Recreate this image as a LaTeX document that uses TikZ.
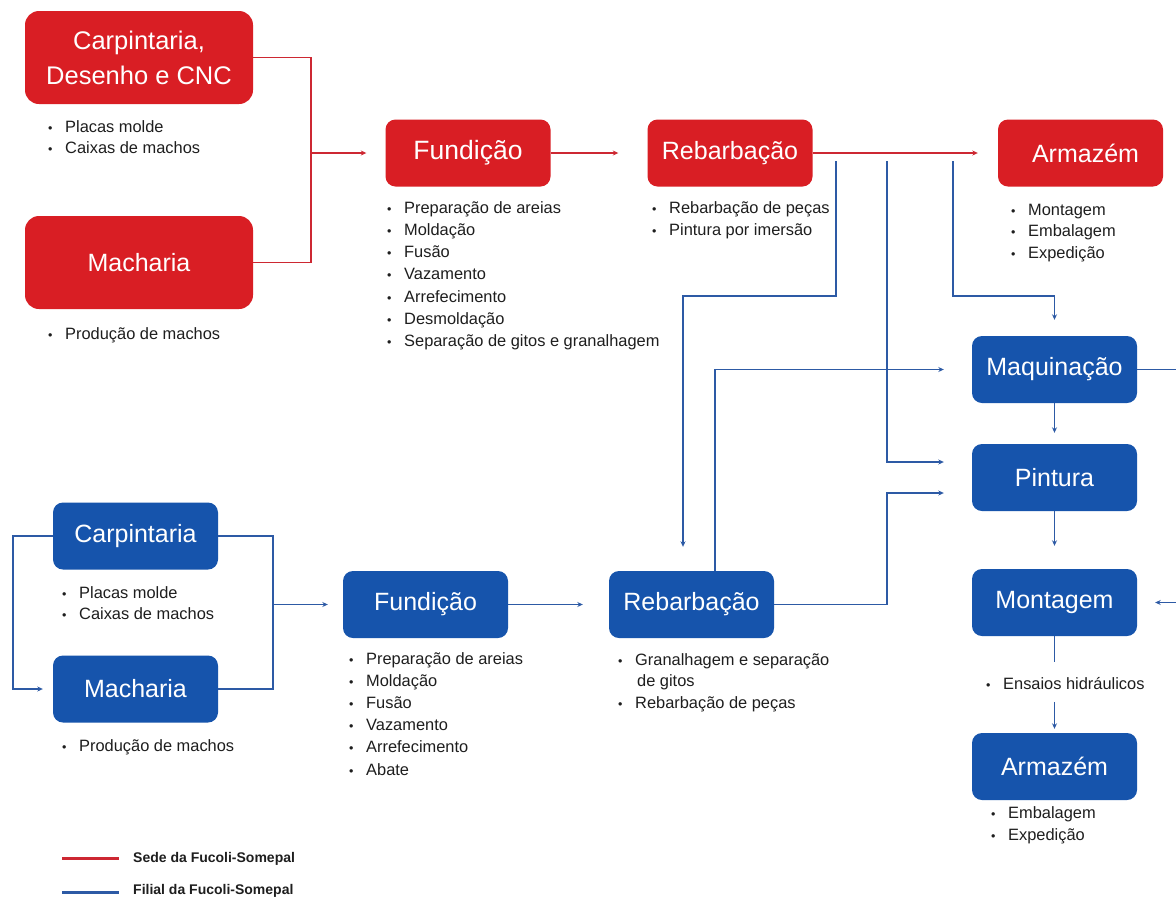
\documentclass[tikz,border=0pt]{standalone}
\usepackage{fontspec}
\setmainfont{Liberation Sans}
\usetikzlibrary{arrows.meta}
\definecolor{redbox}{RGB}{217,30,36}
\definecolor{bluebox}{RGB}{22,84,172}
\definecolor{redln}{RGB}{205,40,50}
\definecolor{blueln}{RGB}{45,90,165}
\definecolor{txt}{RGB}{30,30,30}
\newcommand{\bu}{\makebox[17pt][l]{{\fontsize{12.5}{12}\selectfont •}}}
\begin{document}
\begin{tikzpicture}[x=1pt,y=-1pt,
  box/.style={rounded corners=10pt, text=white, font=\fontsize{25}{30}\selectfont,
    minimum width=165pt, minimum height=67pt, inner sep=0pt, align=center},
  rbox/.style={box, fill=redbox},
  bbox/.style={box, fill=bluebox},
  bigbox/.style={minimum width=228pt, minimum height=93pt, rounded corners=14pt},
  rl/.style={draw=redln, line width=1.1pt},
  bln/.style={draw=blueln, line width=1.1pt},
  arr/.style={-{Stealth[length=5.5pt,width=5pt]}},
  item/.style={anchor=base west, inner sep=0pt, font=\fontsize{16.4}{16}\selectfont, text=txt},
  legend/.style={anchor=base west, inner sep=0pt, font=\fontsize{14}{14}\selectfont\bfseries, text=txt}]
\useasboundingbox (0,0) rectangle (1176,898);
\fill[white] (0,0) rectangle (1176,898);

% ---------- red (Sede) ----------
\node[rbox,bigbox,font=\fontsize{25.5}{35}\selectfont] (carpR) at (139,57.5) {Carpintaria,\\Desenho e CNC};
\node[rbox,bigbox] (machR) at (139,262.5) {Macharia};
\node[rbox,font=\fontsize{26.5}{30}\selectfont] (fundR) at (468,153) {Fundição};
\node[rbox] (rebR) at (730,153) {Rebarbação};
\node[rbox] (armR) at (1080.5,153) {\hspace*{10pt}Armazém};

% ---------- blue (Filial) ----------
\node[bbox] (maq) at (1054.5,369.5) {Maquinação};
\node[bbox] (pint) at (1054.5,477.5) {Pintura};
\node[bbox] (mont) at (1054.5,602.5) {Montagem};
\node[bbox] (arm2) at (1054.5,766.5) {Armazém};
\node[bbox] (carpB) at (135.5,536) {Carpintaria};
\node[bbox] (machB) at (135.5,689) {Macharia};
\node[bbox] (fundB) at (425.5,604.5) {Fundição};
\node[bbox] (rebB) at (691.5,604.5) {Rebarbação};

% ---------- bullet lists ----------
\foreach \t [count=\i] in {Placas molde, Caixas de machos}
  \node[item] (lcr\i) at (48,{132+21*(\i-1)}) {\bu\t};
\node[item] (lmr1) at (48,339) {\bu Produção de machos};
\foreach \t [count=\i] in {Preparação de areias, Moldação, Fusão, Vazamento, Arrefecimento, Desmoldação, Separação de gitos e granalhagem}
  \node[item] (lfr\i) at (387,{213+22.3*(\i-1)}) {\bu\t};
\foreach \t [count=\i] in {Rebarbação de peças, Pintura por imersão}
  \node[item] (lrr\i) at (652,{213+22*(\i-1)}) {\bu\t};
\foreach \t [count=\i] in {Montagem, Embalagem, Expedição}
  \node[item] (lar\i) at (1011,{215+21.5*(\i-1)}) {\bu\t};
\foreach \t [count=\i] in {Placas molde, Caixas de machos}
  \node[item] (lcb\i) at (62,{598+21*(\i-1)}) {\bu\t};
\node[item] (lmb1) at (62,751) {\bu Produção de machos};
\foreach \t [count=\i] in {Preparação de areias, Moldação, Fusão, Vazamento, Arrefecimento, Abate}
  \node[item] (lfb\i) at (349,{664+22.2*(\i-1)}) {\bu\t};
\node[item] (lrb1) at (618,665) {\bu Granalhagem e separação};
\node[item] (lrb2) at (637,686) {de gitos};
\node[item] (lrb3) at (618,708) {\bu Rebarbação de peças};
\node[item] (lens) at (986,689) {\bu Ensaios hidráulicos};
\foreach \t [count=\i] in {Embalagem, Expedição}
  \node[item] (la2\i) at (991,{818+22*(\i-1)}) {\bu\t};

% ---------- red connectors ----------
\coordinate (jr) at (311,153);
\draw[rl] (carpR.east) -| (jr);
\draw[rl] (machR.east) -| (jr);
\draw[rl,arr,shorten >=19pt] (jr) -- (fundR.west);
\draw[rl,arr,shorten >=29pt] (fundR.east) -- (rebR.west);
\draw[rl,arr,shorten >=20pt] (rebR.east) -- (armR.west);

% ---------- blue connectors ----------
\coordinate (s1) at (836,161);
\coordinate (s2) at (887,161);
\coordinate (s3) at (953,161);
\coordinate (k1) at (683,296);
\coordinate (k3) at (1054.5,296);
\coordinate (k4) at (715,0);
\coordinate (k5) at (887,0);
\coordinate (pu) at ([yshift=15.5pt]pint.west);
\coordinate (pl) at ([yshift=-15.5pt]pint.west);
\draw[bln,arr,shorten >=24pt] (s1) |- (k1) -- (k1 |- rebB.north);
\draw[bln,arr,shorten >=28pt] (s2) |- (pu);
\draw[bln,arr,shorten >=16pt] (s3) |- (k3) -- (maq.north);
\draw[bln,arr,shorten >=28pt] (rebB.north -| k4) |- (maq.west);
\draw[bln,arr,shorten >=28pt] (rebB.east) -| (pl -| k5) -- (pl);
\draw[bln,arr,shorten >=11pt] (maq.south) -- (pint.north);
\draw[bln,arr,shorten >=23pt] (pint.south) -- (mont.north);
\coordinate (e1) at ([yshift=-26pt]mont.south);
\coordinate (e2) at ([yshift=31pt]arm2.north);
\draw[bln] (mont.south) -- (e1);
\draw[bln,arr,shorten >=4pt] (e2) -- (arm2.north);
\begin{scope}
\clip (0,0) rectangle (1176,898);
\coordinate (k6) at (1190,0);
\draw[bln,arr,shorten >=18pt] (maq.east) -- (maq.east -| k6) -- (mont.east -| k6) -- (mont.east);
\end{scope}

\coordinate (k7) at (13,0);
\draw[bln,arr,shorten >=10pt] (carpB.west) -- (carpB.west -| k7) -- (machB.west -| k7) -- (machB.west);
\coordinate (jb) at (273,604.5);
\draw[bln] (carpB.east) -| (jb);
\draw[bln] (machB.east) -| (jb);
\draw[bln,arr,shorten >=15pt] (jb) -- (fundB.west);
\draw[bln,arr,shorten >=26pt] (fundB.east) -- (rebB.west);

% ---------- legend ----------
\draw[draw=redln, line width=3pt] (62,858) -- (119,858);
\draw[draw=blueln, line width=3pt] (62,892) -- (119,892);
\node[legend] (lg1) at (133,862) {Sede da Fucoli-Somepal};
\node[legend] (lg2) at (133,894) {Filial da Fucoli-Somepal};
\end{tikzpicture}
\end{document}
